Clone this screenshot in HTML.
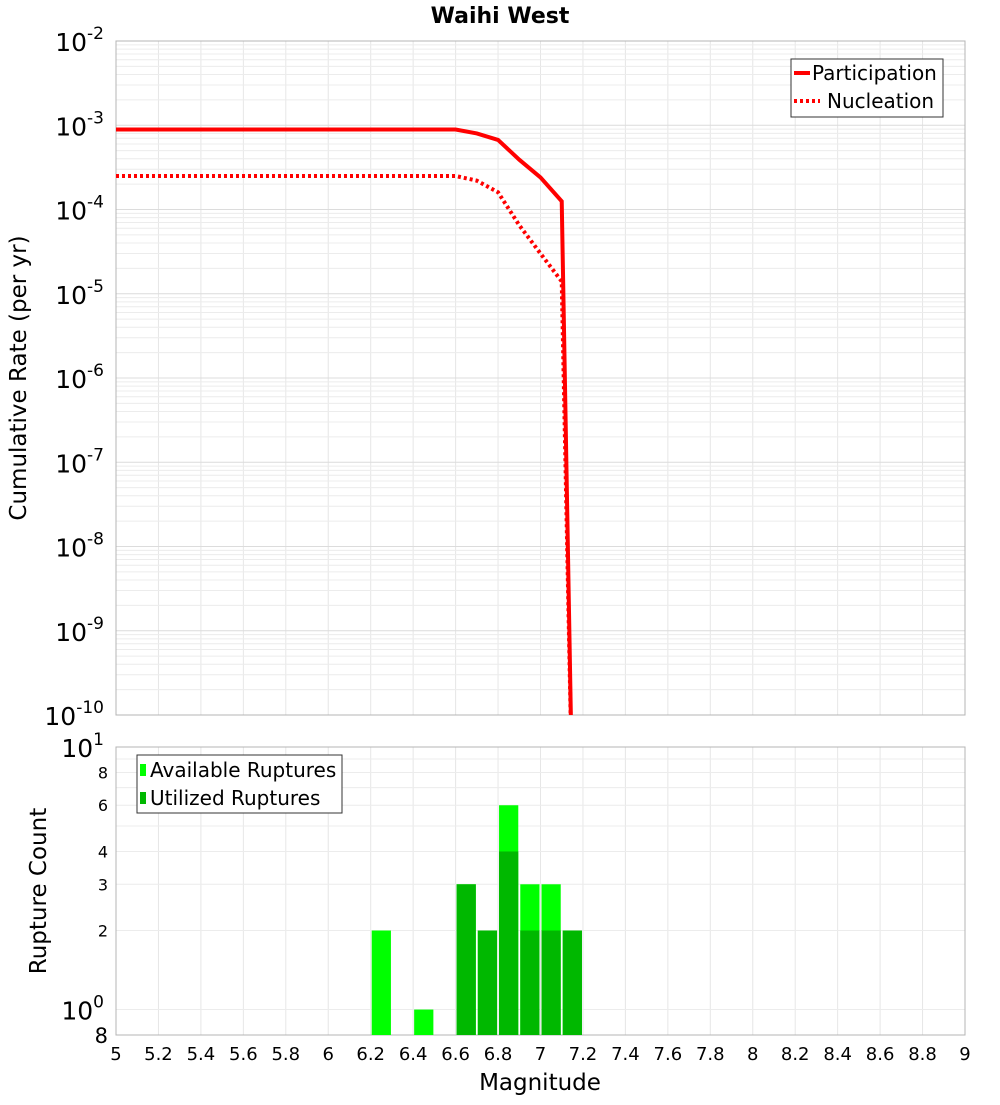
<!DOCTYPE html>
<html><head><meta charset="utf-8"><style>
body{margin:0;background:#fff;width:1000px;height:1100px;overflow:hidden}
svg{font-family:"DejaVu Sans","Liberation Sans",sans-serif}
</style></head><body>
<svg id="c" width="1000" height="1100"></svg>
<script>
const mags=[5,5.1,5.2,5.3,5.4,5.5,5.6,5.7,5.8,5.9,6,6.1,6.2,6.3,6.4,6.5,6.6,6.7,6.8,6.9,7.0,7.1,7.15];
const partic=[8.9e-4,8.9e-4,8.9e-4,8.9e-4,8.9e-4,8.9e-4,8.9e-4,8.9e-4,8.9e-4,8.9e-4,8.9e-4,8.9e-4,8.9e-4,8.9e-4,8.9e-4,8.9e-4,8.9e-4,8.0e-4,6.7e-4,3.9e-4,2.4e-4,1.25e-4,1e-11];
const nucl=[2.5e-4,2.5e-4,2.5e-4,2.5e-4,2.5e-4,2.5e-4,2.5e-4,2.5e-4,2.5e-4,2.5e-4,2.5e-4,2.5e-4,2.5e-4,2.5e-4,2.5e-4,2.5e-4,2.5e-4,2.2e-4,1.6e-4,6.5e-5,3.0e-5,1.4e-5,1e-11];
const binMags=[6.25,6.45,6.65,6.75,6.85,6.95,7.05,7.15];
const available=[2,1,3,2,6,3,3,2];
const utilized=[0,0,3,2,4,2,2,2];
const xTicks=[5,5.2,5.4,5.6,5.8,6,6.2,6.4,6.6,6.8,7,7.2,7.4,7.6,7.8,8,8.2,8.4,8.6,8.8,9];
const yExps=[-2,-3,-4,-5,-6,-7,-8,-9,-10];

const S=document.getElementById('c'),NS='http://www.w3.org/2000/svg';
function el(t,a,p){const e=document.createElementNS(NS,t);for(const k in a)e.setAttribute(k,a[k]);(p||S).appendChild(e);return e;}
const L=116,R=965,T1=41,B1=715,T2=747,B2=1035;
const X=m=>L+(m-5)/4*(R-L);
const Y1=v=>T1+(-2-Math.log10(v))*(B1-T1)/8;
const lo2=Math.log10(0.8);
const Y2=v=>T2+(1-Math.log10(v))*(B2-T2)/(1-lo2);
const g=el('g',{});

for(const t of xTicks){el('line',{x1:X(t),x2:X(t),y1:T1,y2:B1,stroke:'#e6e6e6'},g);el('line',{x1:X(t),x2:X(t),y1:T2,y2:B2,stroke:'#e6e6e6'},g);}
for(let e=-10;e<-2;e++)for(let k=1;k<10;k++){const y=Y1(k*Math.pow(10,e));el('line',{x1:L,x2:R,y1:y,y2:y,stroke:k==1?'#dcdcdc':'#ececec'},g);}
for(const v of [1,2,3,4,5,6,7,8,9]){const y=Y2(v);el('line',{x1:L,x2:R,y1:y,y2:y,stroke:'#ececec'},g);}
el('rect',{x:L,y:T1,width:R-L,height:B1-T1,fill:'none',stroke:'#b4b4b4'});
el('rect',{x:L,y:T2,width:R-L,height:B2-T2,fill:'none',stroke:'#b4b4b4'});
const ti=el('text',{x:500,y:23,'text-anchor':'middle','font-size':22,'font-weight':'bold'});ti.textContent='Waihi West';

for(const e of yExps){const t=el('text',{x:104,y:Y1(Math.pow(10,e))+10,'text-anchor':'end','font-size':25});

t.innerHTML='10<tspan dy="-12" font-size="17">'+e+'</tspan>';}
const clip=el('clipPath',{id:'cp'});el('rect',{x:L,y:T1,width:R-L,height:B1-T1},clip);
function path(arr){return mags.map((m,i)=>(i?'L':'M')+X(m)+','+Y1(arr[i])).join('');}
const p1=el('path',{d:path(partic),fill:'none',stroke:'#ff0000','stroke-width':4,'clip-path':'url(#cp)'});

const p2=el('path',{d:path(nucl),fill:'none',stroke:'#ff0000','stroke-width':4,'stroke-dasharray':'3 3','clip-path':'url(#cp)'});

const lg=el('g',{});
el('rect',{x:791,y:59,width:152,height:58,fill:'#fff',stroke:'#333'},lg);
el('line',{x1:794,x2:810,y1:73,y2:73,stroke:'#f00','stroke-width':4},lg);
el('line',{x1:794,x2:820,y1:101,y2:101,stroke:'#f00','stroke-width':4,'stroke-dasharray':'3 3'},lg);
let t=el('text',{x:812,y:80,'font-size':20},lg);t.textContent='Participation';
t=el('text',{x:827,y:108,'font-size':20},lg);t.textContent='Nucleation';
t=el('text',{transform:'translate(26,378) rotate(-90)','text-anchor':'middle','font-size':23});t.textContent='Cumulative Rate (per yr)';

t=el('text',{transform:'translate(46,891) rotate(-90)','text-anchor':'middle','font-size':23});t.textContent='Rupture Count';

const bw=(R-L)/40;
binMags.forEach((m,i)=>{
 if(available[i]>0){const r=el('rect',{x:X(m)-bw/2+1,y:Y2(available[i]),width:bw-2,height:B2-Y2(available[i]),fill:'#00ff00'});
 }
 if(utilized[i]>0){const r=el('rect',{x:X(m)-bw/2+1,y:Y2(utilized[i]),width:bw-2,height:B2-Y2(utilized[i]),fill:'#00b800'});
 }
});
[[8,'8'],[6,'6'],[4,'4'],[3,'3'],[2,'2']].forEach(([v,s])=>{const tt=el('text',{x:108,y:Y2(v)+6,'text-anchor':'end','font-size':16});tt.textContent=s;
});
t=el('text',{x:104,y:Y2(10)+10,'text-anchor':'end','font-size':25});t.innerHTML='10<tspan dy="-12" font-size="17">1</tspan>';
t=el('text',{x:104,y:Y2(1)+10,'text-anchor':'end','font-size':25});t.innerHTML='10<tspan dy="-12" font-size="17">0</tspan>';
t=el('text',{x:108,y:1043,'text-anchor':'end','font-size':21});t.textContent='8';
const lb=el('g',{});
el('rect',{x:137,y:755,width:205,height:58,fill:'#fff',stroke:'#333'},lb);
el('rect',{x:140,y:764,width:6,height:12,fill:'#00ff00'},lb);
el('rect',{x:140,y:792,width:6,height:12,fill:'#00b800'},lb);
t=el('text',{x:150,y:777,'font-size':20},lb);t.textContent='Available Ruptures';
t=el('text',{x:150,y:805,'font-size':20},lb);t.textContent='Utilized Ruptures';
for(const v of xTicks){const tt=el('text',{x:X(v),y:1060,'text-anchor':'middle','font-size':18});tt.textContent=String(v);
}
t=el('text',{x:540,y:1090,'text-anchor':'middle','font-size':23});t.textContent='Magnitude';

</script>
</body></html>
